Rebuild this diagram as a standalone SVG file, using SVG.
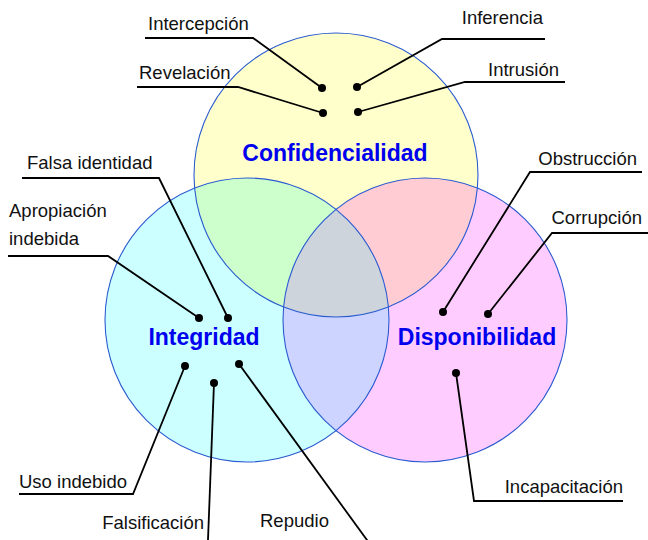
<svg xmlns="http://www.w3.org/2000/svg" width="648" height="540" viewBox="0 0 648 540">
<style>
.lbl{font-family:"Liberation Sans",Arial,sans-serif;font-size:18.5px;fill:#111}
.end{text-anchor:end}
.ttl{font-family:"Liberation Sans",Arial,sans-serif;font-size:23px;font-weight:bold;fill:#0000EE;text-anchor:middle}
.ring{fill:none;stroke:#2A5BD0;stroke-width:1.1}
.con{fill:none;stroke:#000;stroke-width:1.8;stroke-linejoin:miter}
.dot{fill:#000}
</style>
<defs>
<clipPath id="cT"><circle cx="336" cy="175" r="142"/></clipPath>
<clipPath id="cL"><circle cx="247" cy="320" r="142"/></clipPath>
</defs>
<rect width="648" height="540" fill="#fff"/>
<g id="fills">
<circle cx="336" cy="175" r="142" fill="#FFFFCC"/>
<circle cx="247" cy="320" r="142" fill="#CCFFFF"/>
<circle cx="425" cy="320" r="142" fill="#FFCCFF"/>
<circle cx="247" cy="320" r="142" fill="#CCFFCC" clip-path="url(#cT)"/>
<circle cx="425" cy="320" r="142" fill="#FFCCD4" clip-path="url(#cT)"/>
<circle cx="425" cy="320" r="142" fill="#CCD4FF" clip-path="url(#cL)"/>
<g clip-path="url(#cT)"><circle cx="425" cy="320" r="142" fill="#CDD4DC" clip-path="url(#cL)"/></g>
</g>
<g id="confidencialidad">
<circle class="ring" cx="336" cy="175" r="142"/>
<text class="ttl" x="335" y="161">Confidencialidad</text>
</g>
<g id="integridad">
<circle class="ring" cx="247" cy="320" r="142"/>
<text class="ttl" x="204" y="345">Integridad</text>
</g>
<g id="disponibilidad">
<circle class="ring" cx="425" cy="320" r="142"/>
<text class="ttl" x="477" y="345">Disponibilidad</text>
</g>
<g id="connectors">
<polyline class="con" points="145,38 253,38 322,88"/>
<polyline class="con" points="137,87 238,87 323,113"/>
<polyline class="con" points="545,39 442,39 357,87"/>
<polyline class="con" points="565,82 465,82 358,112"/>
<polyline class="con" points="22,178 159,178 228,318"/>
<polyline class="con" points="8,256 108,256 199,318"/>
<polyline class="con" points="642,172 530,172 443,312"/>
<polyline class="con" points="648,233 552,233 488,314"/>
<polyline class="con" points="19,494 133,494 185,366"/>
<polyline class="con" points="207.8,545 214,383"/>
<polyline class="con" points="370.6,545 239,364"/>
<polyline class="con" points="623,501 474,501 456,373"/>
</g>
<g id="intercepcion"><circle class="dot" cx="322" cy="88" r="4"/><text class="lbl" x="148" y="30">Intercepción</text></g>
<g id="revelacion"><circle class="dot" cx="323" cy="113" r="4"/><text class="lbl" x="139" y="79">Revelación</text></g>
<g id="inferencia"><circle class="dot" cx="357" cy="87" r="4"/><text class="lbl end" x="543" y="24">Inferencia</text></g>
<g id="intrusion"><circle class="dot" cx="358" cy="112" r="4"/><text class="lbl end" x="559" y="76">Intrusión</text></g>
<g id="falsa-identidad"><circle class="dot" cx="228" cy="318" r="4"/><text class="lbl" x="27" y="169">Falsa identidad</text></g>
<g id="apropiacion"><circle class="dot" cx="199" cy="318" r="4"/><text class="lbl" x="9" y="217">Apropiación</text><text class="lbl" x="9" y="245">indebida</text></g>
<g id="obstruccion"><circle class="dot" cx="443" cy="312" r="4"/><text class="lbl end" x="637" y="165">Obstrucción</text></g>
<g id="corrupcion"><circle class="dot" cx="488" cy="314" r="4"/><text class="lbl end" x="642" y="224">Corrupción</text></g>
<g id="uso-indebido"><circle class="dot" cx="185" cy="366" r="4"/><text class="lbl" x="19" y="488">Uso indebido</text></g>
<g id="falsificacion"><circle class="dot" cx="214" cy="383" r="4"/><text class="lbl end" x="204" y="529">Falsificación</text></g>
<g id="repudio"><circle class="dot" cx="239" cy="364" r="4"/><text class="lbl" x="260" y="527">Repudio</text></g>
<g id="incapacitacion"><circle class="dot" cx="456" cy="373" r="4"/><text class="lbl end" x="623" y="493">Incapacitación</text></g>
</svg>
